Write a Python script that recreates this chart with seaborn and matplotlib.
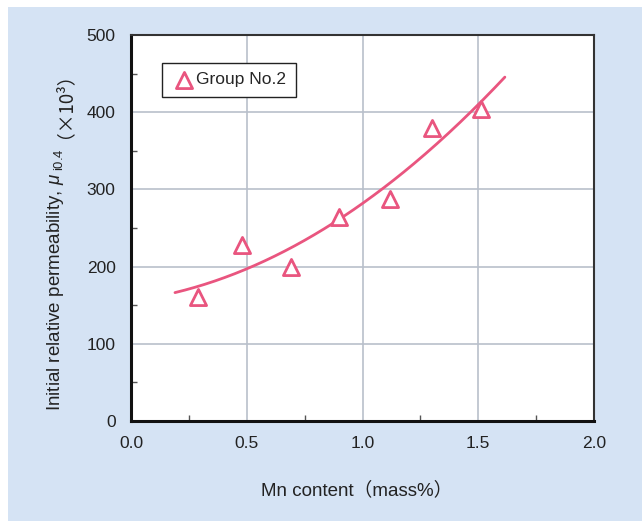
import numpy as np
import pandas as pd
import seaborn as sns
import matplotlib.pyplot as plt
from matplotlib.patches import Rectangle

# measured points (Group No.2)
mn_content = [0.29, 0.48, 0.69, 0.90, 1.12, 1.30, 1.51]
permeability = [160, 228, 200, 264, 288, 380, 404]

# points
trend_x = [0.19, 0.50, 1.00, 1.08, 1.50, 1.615]
trend_y = [166, 198, 280, 300, 412, 444]

x_ticks = [0.0, 0.5, 1.0, 1.5, 2.0]
y_ticks = [0, 100, 200, 300, 400, 500]

pink = "#E9557F"
panel_blue = "#D5E3F4"
grid_col = "#B9C0CB"
text_col = "#222222"

sns.set_theme(style="white")
plt.rcParams["font.family"] = ["Liberation Sans", "Noto Sans CJK JP", "DejaVu Sans"]
plt.rcParams["mathtext.fontset"] = "custom"
plt.rcParams["mathtext.rm"] = "Liberation Sans"
plt.rcParams["mathtext.it"] = "Liberation Sans:italic"

W, H = 642, 521
fig = plt.figure(figsize=(W / 100, H / 100), dpi=100, facecolor="white")
fig.patches.append(Rectangle((8 / W, 0), 1, (H - 7) / H, transform=fig.transFigure,
                             facecolor=panel_blue, edgecolor="none", zorder=-10))
ax = fig.add_axes([131 / W, 100 / H, 463 / W, 386 / H])
ax.set_facecolor("white")

# smooth trend curve from the read points
coef = np.polyfit(trend_x, trend_y, 2)
xs = np.linspace(trend_x[0], trend_x[-1], 200)
curve = pd.DataFrame({"x": xs, "y": np.polyval(coef, xs)})
sns.lineplot(data=curve, x="x", y="y", ax=ax, color=pink, linewidth=2, zorder=3)

pts = pd.DataFrame({"x": mn_content, "y": permeability})
sns.scatterplot(data=pts, x="x", y="y", ax=ax, marker="^", s=135, facecolor="white",
                edgecolor=pink, linewidth=2, zorder=4)

ax.set_xlim(0, 2.0)
ax.set_ylim(0, 500)
ax.set_xticks(x_ticks)
ax.set_xticklabels([f"{t:.1f}" for t in x_ticks])
ax.set_yticks(y_ticks)
ax.set_xticks([0.25, 0.75, 1.25, 1.75], minor=True)
ax.set_yticks([50, 150, 250, 350, 450], minor=True)
ax.tick_params(which="major", length=0, labelsize=12.5, colors=text_col, pad=11)
ax.tick_params(which="minor", direction="in", length=4, width=1, color="#555555",
               bottom=True, left=True)
ax.grid(True, which="major", color=grid_col, linewidth=1.2)
ax.set_axisbelow(True)

for side in ["left", "bottom"]:
    ax.spines[side].set_color("#111111")
    ax.spines[side].set_linewidth(2.2)
for side in ["top", "right"]:
    ax.spines[side].set_visible(True)
    ax.spines[side].set_color("#333333")
    ax.spines[side].set_linewidth(1.5)

ax.set_xlabel("")
ax.set_ylabel("")

# x label
fig.text(261 / W, (H - 490) / H, "Mn content（mass%）", ha="left", va="center",
         fontsize=13.5, color=text_col)

# y label in two pieces: mathtext part, then the full-width bracket part
ylab_x = 55 / W
t1 = fig.text(ylab_x, (H - 411) / H, r"Initial relative permeability, $\mu_{\rm\ i0.4}$",
              rotation=90, ha="center", va="bottom", fontsize=13.5, color=text_col)
fig.canvas.draw()
bb = t1.get_window_extent()
fig.text(ylab_x, (bb.y1 + 10) / H, "（×10³）", rotation=90, ha="center", va="bottom",
         fontsize=13.5, color=text_col, family=["Noto Sans CJK JP", "DejaVu Sans"])

# legend box
ax.scatter([], [], marker="^", s=135, facecolor="white", edgecolor=pink, linewidth=2,
           label="Group No.2")
leg = ax.legend(loc="upper left", bbox_to_anchor=(0.049, 0.951), frameon=True, fancybox=False,
                fontsize=12.5, handletextpad=0.0, borderpad=0.55, handlelength=1.4,
                edgecolor=text_col, framealpha=1)
leg.get_frame().set_linewidth(1.0)

fig.savefig("out.png", dpi=100, facecolor=fig.get_facecolor())
